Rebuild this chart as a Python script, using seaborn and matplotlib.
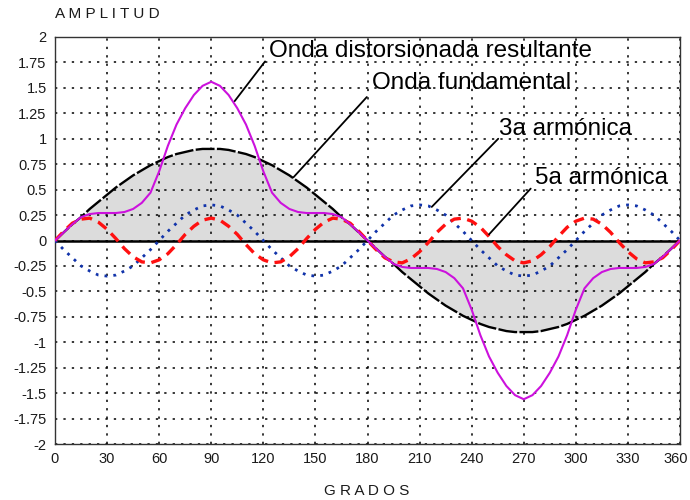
import matplotlib
matplotlib.use("Agg")
import matplotlib.pyplot as plt
import matplotlib.transforms as mtransforms
import seaborn as sns

# Angles in degrees, sampled every 5 degrees over one full cycle
grados = list(range(0, 361, 5))

fundamental = [
    0.00, 0.08, 0.16, 0.23, 0.31, 0.38, 0.45, 0.52, 0.58, 0.64, 0.69, 0.74, 0.78,
    0.82, 0.85, 0.87, 0.89, 0.90, 0.90, 0.90, 0.89, 0.87, 0.85, 0.82, 0.78, 0.74,
    0.69, 0.64, 0.58, 0.52, 0.45, 0.38, 0.31, 0.23, 0.16, 0.08, 0.00,
    -0.08, -0.16, -0.23, -0.31, -0.38, -0.45, -0.52, -0.58, -0.64, -0.69, -0.74,
    -0.78, -0.82, -0.85, -0.87, -0.89, -0.90, -0.90, -0.90, -0.89, -0.87, -0.85,
    -0.82, -0.78, -0.74, -0.69, -0.64, -0.58, -0.52, -0.45, -0.38, -0.31, -0.23,
    -0.16, -0.08, 0.00,
]

tercera = [
    0.00, -0.09, -0.17, -0.25, -0.30, -0.34, -0.35, -0.34, -0.30, -0.25, -0.17, -0.09,
    0.00, 0.09, 0.17, 0.25, 0.30, 0.34, 0.35, 0.34, 0.30, 0.25, 0.17, 0.09,
    0.00, -0.09, -0.17, -0.25, -0.30, -0.34, -0.35, -0.34, -0.30, -0.25, -0.17, -0.09,
    0.00, 0.09, 0.17, 0.25, 0.30, 0.34, 0.35, 0.34, 0.30, 0.25, 0.17, 0.09,
    0.00, -0.09, -0.17, -0.25, -0.30, -0.34, -0.35, -0.34, -0.30, -0.25, -0.17, -0.09,
    0.00, 0.09, 0.17, 0.25, 0.30, 0.34, 0.35, 0.34, 0.30, 0.25, 0.17, 0.09,
    0.00,
]

quinta = [
    0.00, 0.09, 0.17, 0.21, 0.22, 0.18, 0.11, 0.02, -0.08, -0.16, -0.21, -0.22,
    -0.19, -0.13, -0.04, 0.06, 0.14, 0.20, 0.22, 0.20, 0.14, 0.06, -0.04, -0.13,
    -0.19, -0.22, -0.21, -0.16, -0.08, 0.02, 0.11, 0.18, 0.22, 0.21, 0.17, 0.09,
    0.00,
    -0.09, -0.17, -0.21, -0.22, -0.18, -0.11, -0.02, 0.08, 0.16, 0.21, 0.22,
    0.19, 0.13, 0.04, -0.06, -0.14, -0.20, -0.22, -0.20, -0.14, -0.06, 0.04, 0.13,
    0.19, 0.22, 0.21, 0.16, 0.08, -0.02, -0.11, -0.18, -0.22, -0.21, -0.17, -0.09,
    0.00,
]

resultante = [
    0.00, 0.08, 0.16, 0.23, 0.26, 0.27, 0.27, 0.27, 0.28, 0.31, 0.37, 0.47, 0.68,
    0.93, 1.14, 1.30, 1.43, 1.52, 1.56, 1.52, 1.43, 1.30, 1.14, 0.93, 0.68, 0.47,
    0.37, 0.31, 0.28, 0.27, 0.27, 0.27, 0.26, 0.23, 0.16, 0.08, 0.00,
    -0.08, -0.16, -0.23, -0.26, -0.27, -0.27, -0.27, -0.28, -0.31, -0.37, -0.47,
    -0.68, -0.93, -1.14, -1.30, -1.43, -1.52, -1.56, -1.52, -1.43, -1.30, -1.14,
    -0.93, -0.68, -0.47, -0.37, -0.31, -0.28, -0.27, -0.27, -0.27, -0.26, -0.23,
    -0.16, -0.08, 0.00,
]

x_ticks = [0, 30, 60, 90, 120, 150, 180, 210, 240, 270, 300, 330, 360]
y_ticks = [-2, -1.75, -1.5, -1.25, -1, -0.75, -0.5, -0.25, 0,
           0.25, 0.5, 0.75, 1, 1.25, 1.5, 1.75, 2]
y_labels = ["-2", "-1.75", "-1.5", "-1.25", "-1", "-0.75", "-0.5", "-0.25", "0",
            "0.25", "0.5", "0.75", "1", "1.25", "1.5", "1.75", "2"]

sns.set_theme(style="white")
plt.rcParams["font.family"] = ["Liberation Sans", "DejaVu Sans"]

fig = plt.figure(figsize=(6.9, 5.0), dpi=100)
ax = fig.add_axes([55 / 690, 56 / 500, 625 / 690, 407 / 500])

# shaded area under the fundamental
ax.fill_between(grados, fundamental, 0, color="#dcdcdc", zorder=0.3, linewidth=0)

ax.set_axisbelow(True)
ax.grid(True, color="black", linestyle=(0, (1.5, 4)), linewidth=1.1)

ax.axhline(0, color="black", linewidth=1.8, zorder=2)

sns.lineplot(x=grados, y=fundamental, ax=ax, color="black",
             linestyle=(0, (8, 1)), linewidth=1.7, zorder=3)
sns.lineplot(x=grados, y=tercera, ax=ax, color="#1133aa",
             linestyle=(0, (1, 2.2)), linewidth=2.0, zorder=4)
sns.lineplot(x=grados, y=quinta, ax=ax, color="#ff1010",
             linestyle=(0, (3.2, 2)), linewidth=2.4, zorder=5)
sns.lineplot(x=grados, y=resultante, ax=ax, color="#cc11dd",
             linewidth=1.5, zorder=6)

ax.set_xlim(0, 360)
ax.set_ylim(-2, 2)
ax.set_xticks(x_ticks)
ax.set_xticklabels([str(v) for v in x_ticks])
ax.set_yticks(y_ticks)
ax.set_yticklabels(y_labels)
ax.tick_params(direction="in", length=7, width=1.6, color="black",
               labelsize=10.5, labelcolor="#1a1a1a", pad=6)
ax.set_xlabel("")
ax.set_ylabel("")
for s in ax.spines.values():
    s.set_visible(True)
    s.set_color("#333333")
    s.set_linewidth(1.0)

# keep the last x label inside the figure edge
last = ax.get_xticklabels()[-1]
last.set_transform(last.get_transform() +
                   mtransforms.ScaledTranslation(-4 / 100, 0, fig.dpi_scale_trans))

# labels with leader lines
notes = [
    ("Onda distorsionada resultante", (123, 1.86), (121, 1.76), (103.5, 1.37)),
    ("Onda fundamental", (182.5, 1.55), (179.6, 1.41), (137.3, 0.62)),
    ("3a armónica", (255.7, 1.10), (255.3, 1.00), (217, 0.33)),
    ("5a armónica", (276.5, 0.615), (274, 0.51), (250, 0.06)),
]
for text, tpos, start, end in notes:
    ax.plot([start[0], end[0]], [start[1], end[1]], color="black",
            linewidth=1.3, zorder=7)
    ax.text(tpos[0], tpos[1], text, fontsize=17.5, ha="left", va="center",
            color="black", zorder=8)

fig.text(55 / 690, 1 - 14 / 500, "A M P L I T U D", fontsize=11,
         ha="left", va="center", color="#1a1a1a")
fig.text(367 / 690, 1 - 491 / 500, "G R A D O S", fontsize=11,
         ha="center", va="center", color="#1a1a1a")

fig.savefig("out.png", dpi=100)
